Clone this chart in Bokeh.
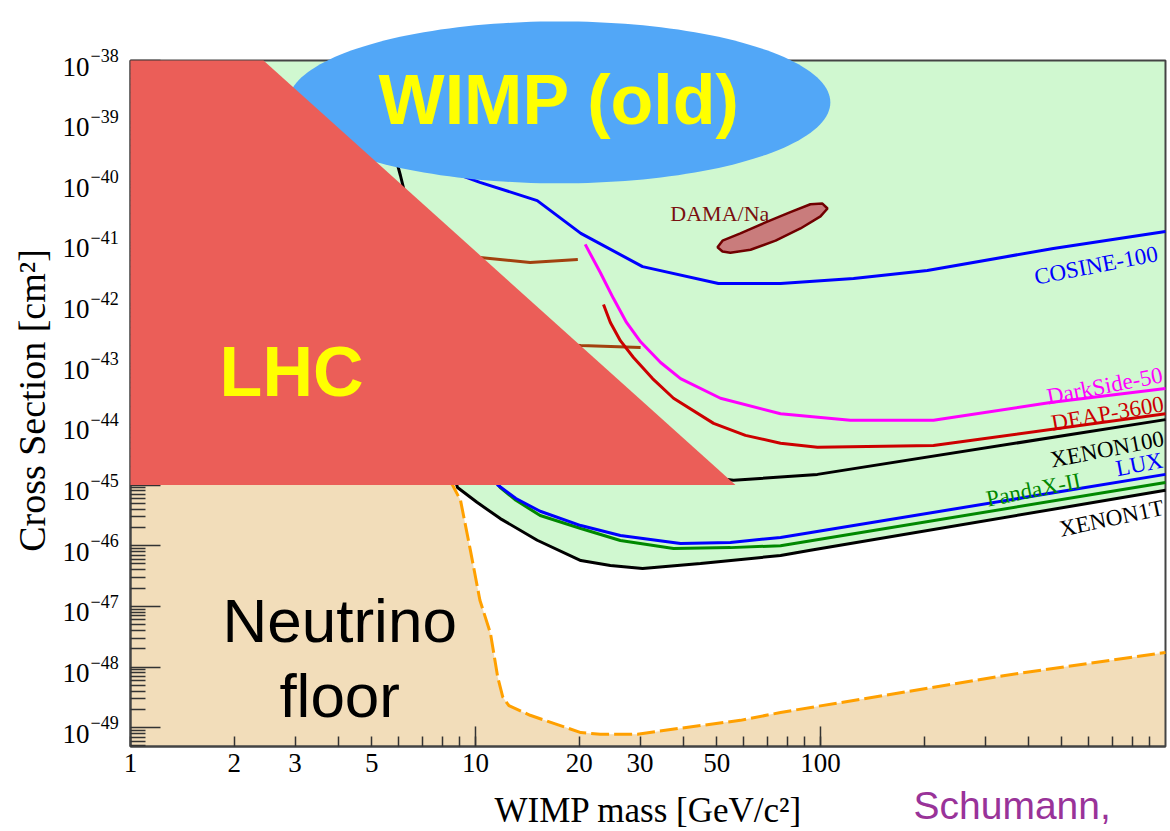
import numpy as np
from bokeh.plotting import figure
from bokeh.models import (Range1d, FixedTicker, CustomJSTickFormatter, Label,
                          PolyAnnotation)
from bokeh.core.properties import value
from bokeh.embed import file_html
from bokeh.resources import INLINE

# ---------------- axes ----------------
x_ticks = [1, 2, 3, 5, 10, 20, 30, 50, 100]
x_decades = [10, 100]
y_ticks = [1e-38, 1e-39, 1e-40, 1e-41, 1e-42, 1e-43, 1e-44, 1e-45, 1e-46,
           1e-47, 1e-48, 1e-49]
y_tick_exponents = ["\u221238", "\u221239", "\u221240", "\u221241", "\u221242",
                    "\u221243", "\u221244", "\u221245", "\u221246", "\u221247",
                    "\u221248", "\u221249"]

# ---------------- data (WIMP mass [GeV], cross section [cm^2]) ----------------
xenon1t_mass = [5.90, 6.06, 6.23, 6.93, 7.92, 8.58, 8.87, 10.1, 11.8, 15.1, 20.2, 24.6, 30.5,
                44.9, 76.6, 93.5, 1000]
xenon1t_xsec = [2.24e-40, 1.27e-40, 6.67e-41, 1.1e-42, 1.16e-44, 1.74e-45, 9.1e-46, 5.2e-46,
                2.8e-46, 1.23e-46, 5.7e-47, 4.7e-47, 4.2e-47, 5.1e-47, 6.9e-47, 8.4e-47, 8.2e-46]

lux_mass = [9.67, 11.6, 13.1, 15.4, 20.2, 26.3, 39.3, 54.8, 76.6, 1000]
lux_xsec = [5.5e-45, 1.0e-45, 6.0e-46, 3.7e-46, 2.15e-46, 1.47e-46, 1.09e-46, 1.13e-46,
            1.37e-46, 1.5e-45]

pandax_mass = [9.67, 11.8, 13.1, 15.4, 20.2, 26.3, 37.5, 54.8, 76.6, 1000]
pandax_xsec = [4.5e-45, 9.1e-46, 5.6e-46, 3.15e-46, 1.92e-46, 1.22e-46, 9.0e-47, 9.3e-47,
               1.0e-46, 1.1e-45]

xenon100_mass = [10.3, 13.5, 20.2, 32.2, 56.0, 98.0, 1000]
xenon100_xsec = [1.1e-42, 3.6e-44, 5.5e-45, 1.74e-45, 1.2e-45, 1.5e-45, 1.2e-44]

deap_mass = [23.5, 24.6, 26.3, 28.7, 32.6, 37.5, 49.0, 60.6, 76.6, 98.0, 212.6, 1000]
deap_xsec = [9.5e-43, 4.8e-43, 2.4e-43, 1.27e-43, 5.7e-44, 2.7e-44, 1.04e-44, 6.6e-45,
             4.9e-45, 4.2e-45, 4.5e-45, 1.5e-44]

darkside_mass = [20.8, 23.0, 25.1, 27.4, 30.1, 34.4, 39.3, 51.3, 76.6, 122, 212.6, 464, 1000]
darkside_xsec = [9.3e-42, 3.2e-42, 1.2e-42, 4.8e-43, 2.3e-43, 1.05e-43, 5.7e-44, 2.7e-44,
                 1.5e-44, 1.17e-44, 1.17e-44, 2.3e-44, 3.9e-44]

cosine_mass = [6.93, 10.3, 15.1, 20.2, 30.5, 50.6, 76.6, 124.7, 204, 473, 1000]
cosine_xsec = [2.24e-40, 9.8e-41, 4.9e-41, 1.41e-41, 4.0e-42, 2.1e-42, 2.1e-42, 2.55e-42,
               3.46e-42, 7.96e-42, 1.52e-41]

lowmass_a_mass = [5.3, 10.3, 14.4, 19.8]
lowmass_a_xsec = [7.4e-42, 5.66e-42, 4.68e-42, 5.25e-42]

lowmass_b_mass = [8.46, 20.2, 30.1]
lowmass_b_xsec = [2.4e-43, 2.0e-43, 1.86e-43]

dama_mass = [50.3, 52.0, 58.6, 69.3, 81.8, 93.5, 101.3, 104.8, 100, 87.5, 74.1, 62.7, 54.8, 52.0]
dama_xsec = [8.32e-42, 1.07e-41, 1.41e-41, 2.14e-41, 3.16e-41, 4.27e-41, 4.37e-41, 3.63e-41,
             2.69e-41, 1.70e-41, 1.07e-41, 7.59e-42, 6.76e-42, 7.08e-42]

nu_mass = [1, 3, 5, 7, 8.58, 9.05, 9.67, 10.3, 11.05, 11.6, 12.0, 12.5, 14.4, 20.2, 23,
           29.5, 39.3, 58.6, 76.6, 339, 1000]
nu_xsec = [1e-42, 5e-44, 1e-44, 4e-45, 1.0e-45, 5.6e-46, 8.3e-47, 1.26e-47, 3.6e-48, 6.8e-49,
           3.2e-49, 2.3e-49, 1.6e-49, 8.3e-50, 7.8e-50, 7.8e-50, 9.8e-50, 1.32e-49, 1.78e-49,
           7.2e-49, 1.74e-48]

lhc_mass = [1, 2.43, 56.7, 1]
lhc_xsec = [1e-38, 1e-38, 1e-45, 1e-45]

wimp_center_mass = 17.5
wimp_center_xsec = 2.04e-39

# ---------------- figure ----------------
# plotted box (mass 1..1000, cross section 4.9e-50..1e-38); the canvas view is a bit larger
BOX_X = (1, 1000)
BOX_Y = (4.9e-50, 1e-38)
p = figure(width=1170, height=831, x_axis_type="log", y_axis_type="log",
           x_range=Range1d(0.42, 1034), y_range=Range1d(1.941e-51, 9.757e-38),
           output_backend="svg", toolbar_location=None, title=None,
           min_border_left=0, min_border_right=0, min_border_top=0,
           min_border_bottom=0)
p.xgrid.visible = False
p.ygrid.visible = False
p.background_fill_color = "white"
p.border_fill_color = "white"
p.outline_line_color = None

x_minor = [m * 10 ** e for e in range(0, 3) for m in range(2, 10) if m * 10 ** e not in x_ticks]
y_minor = [m * 10.0 ** e for e in range(-50, -37) for m in range(2, 10)
           if BOX_Y[0] <= m * 10.0 ** e <= BOX_Y[1]]

xa = p.xaxis[0]
xa.fixed_location = BOX_Y[0]
xa.bounds = BOX_X
xa.ticker = FixedTicker(ticks=x_ticks, minor_ticks=x_minor)
xa.formatter = CustomJSTickFormatter(code="return tick.toString();")
xa.major_label_text_font = "Liberation Serif"
xa.major_label_text_font_size = "27px"
xa.major_label_text_color = "black"
xa.major_label_standoff = 8
xa.major_tick_in = 10
xa.major_tick_out = 0
xa.minor_tick_in = 10
xa.minor_tick_out = 0

ya = p.yaxis[0]
ya.fixed_location = BOX_X[0]
ya.bounds = BOX_Y
ya.ticker = FixedTicker(ticks=y_ticks, minor_ticks=y_minor)
ya.formatter = CustomJSTickFormatter(code="return '';")
ya.major_tick_in = 30
ya.major_tick_out = 0
ya.minor_tick_in = 15
ya.minor_tick_out = 0

for ax in (xa, ya):
    ax.axis_line_color = "#444444"
    ax.axis_line_width = 2
    ax.major_tick_line_color = "#333333"
    ax.major_tick_line_width = 1.5
    ax.minor_tick_line_color = "#333333"
    ax.minor_tick_line_width = 1.5

# ---------------- filled regions ----------------
green_idx = [i for i, m in enumerate(xenon1t_mass) if m >= 7.9]
g_x = [xenon1t_mass[i] for i in green_idx] + [BOX_X[1], BOX_X[0], BOX_X[0]]
g_y = [xenon1t_xsec[i] for i in green_idx] + [BOX_Y[1], BOX_Y[1], xenon1t_xsec[green_idx[0]]]
p.patch(g_x, g_y, fill_color="#D0F8D0", line_alpha=0)

t_x = nu_mass + [BOX_X[1], BOX_X[0]]
t_y = nu_xsec + [BOX_Y[0], BOX_Y[0]]
p.patch(t_x, t_y, fill_color="#F2DDBA", line_alpha=0)

# frame box
p.quad(left=[BOX_X[0]], right=[BOX_X[1]], bottom=[BOX_Y[0]], top=[BOX_Y[1]],
       fill_alpha=0, line_color="#444444", line_width=2)

p.patch(dama_mass, dama_xsec, fill_color="#C97C7C", line_color="#700000", line_width=2.5)

# ---------------- curves ----------------
lw = 3
p.line(lowmass_a_mass, lowmass_a_xsec, line_color="#A2410F", line_width=lw)
p.line(lowmass_b_mass, lowmass_b_xsec, line_color="#A2410F", line_width=lw)
p.line(cosine_mass, cosine_xsec, line_color="#0000FF", line_width=lw)
p.line(darkside_mass, darkside_xsec, line_color="#FF00FF", line_width=lw)
p.line(deap_mass, deap_xsec, line_color="#CC0000", line_width=lw)
p.line(xenon100_mass, xenon100_xsec, line_color="black", line_width=lw)
p.line(pandax_mass, pandax_xsec, line_color="#008800", line_width=lw)
p.line(lux_mass, lux_xsec, line_color="#0000FF", line_width=lw)
p.line(xenon1t_mass, xenon1t_xsec, line_color="black", line_width=lw)
p.line(nu_mass, nu_xsec, line_color="#FFA000", line_width=3, line_dash="18 5")

# long decade ticks on the x axis
p.segment(x0=x_decades, y0=[BOX_Y[0]] * len(x_decades), x1=x_decades,
          y1=[BOX_Y[0] * 10 ** (20 / 60.65)] * len(x_decades),
          line_color="#333333", line_width=1.5)

# ---------------- curve labels ----------------
serif = value("Liberation Serif")
def clabel(x, y, txt, color, ang_deg, align="right", size="23px"):
    p.text(x=[x], y=[y], text=[txt], angle=float(np.deg2rad(ang_deg)), text_font=serif,
           text_font_size=size, text_color=color, text_align=align,
           text_baseline="alphabetic")

clabel(948, 6.6e-42, "COSINE-100", "#0000FF", 11)
clabel(980, 6.6e-44, "DarkSide-50", "#FF00FF", 11)
clabel(987, 2.2e-44, "DEAP-3600", "#CC0000", 10)
clabel(987, 5.9e-45, "XENON100", "black", 11)
clabel(980, 2.6e-45, "LUX", "#0000FF", 11)
clabel(567, 1.2e-45, "PandaX-II", "#008800", 11.5)
clabel(987, 4.3e-46, "XENON1T", "black", 12)
clabel(36.7, 3.0e-41, "DAMA/Na", "#7A1010", 0, align="left", size="22px")

# ---------------- overlays ----------------
t = np.linspace(0, 2 * np.pi, 181)
ell_x = [float(v) for v in 10 ** (np.log10(wimp_center_mass) + 0.7855 * np.cos(t))]
ell_y = [float(v) for v in 10 ** (np.log10(wimp_center_xsec) + 1.335 * np.sin(t))]
p.add_layout(PolyAnnotation(xs=ell_x, ys=ell_y, fill_color="#52A7F7",
                            fill_alpha=1.0, line_alpha=0))
p.add_layout(PolyAnnotation(xs=lhc_mass, ys=lhc_xsec, fill_color="#EB5E58",
                            fill_alpha=1.0, line_alpha=0))

p.add_layout(Label(x=wimp_center_mass, y=wimp_center_xsec, text="WIMP (old)",
                   text_font="Liberation Sans", text_font_style="bold",
                   text_font_size="70px", text_color="#FFFF00",
                   text_align="center", text_baseline="middle", y_offset=2))
p.add_layout(Label(x=2.93, y=7.4e-44, text="LHC", text_font="Liberation Sans",
                   text_font_style="bold", text_font_size="70px", text_color="#FFFF00",
                   text_align="center", text_baseline="middle"))
p.add_layout(Label(x=4.04, y=5.9e-48, text="Neutrino", text_font="Liberation Sans",
                   text_font_size="62px", text_color="black",
                   text_align="center", text_baseline="alphabetic"))
p.add_layout(Label(x=4.04, y=3.4e-49, text="floor", text_font="Liberation Sans",
                   text_font_size="62px", text_color="black",
                   text_align="center", text_baseline="alphabetic"))

# y tick labels 10^-n  (x in screen px from the left edge)
for yt, ex in zip(y_ticks, y_tick_exponents):
    p.add_layout(Label(x=89, x_units="screen", y=yt, y_units="data", text="10",
                       text_font="Liberation Serif", text_font_size="27px",
                       text_color="black", text_align="right", text_baseline="middle",
                       y_offset=-6))
    p.add_layout(Label(x=90, x_units="screen", y=yt, y_units="data", text=ex,
                       text_font="Liberation Serif", text_font_size="18px",
                       text_color="black", text_align="left", text_baseline="middle",
                       y_offset=5))

# axis titles and credit (screen px from bottom-left corner)
p.add_layout(Label(x=648, y=21, x_units="screen", y_units="screen",
                   text="WIMP mass [GeV/c\u00b2]", text_font="Liberation Serif",
                   text_font_size="35px", text_color="black",
                   text_align="center", text_baseline="alphabetic"))
p.add_layout(Label(x=31, y=431, x_units="screen", y_units="screen",
                   text="Cross Section [cm\u00b2]", text_font="Liberation Serif",
                   text_font_size="38px", text_color="black", angle=float(np.pi / 2),
                   text_align="center", text_baseline="alphabetic"))
p.add_layout(Label(x=913, y=26, x_units="screen", y_units="screen",
                   text="Schumann,", text_font="Liberation Sans",
                   text_font_size="39px", text_color="#993399",
                   text_align="left", text_baseline="alphabetic"))

open("out.html", "w").write(file_html(p, INLINE))
